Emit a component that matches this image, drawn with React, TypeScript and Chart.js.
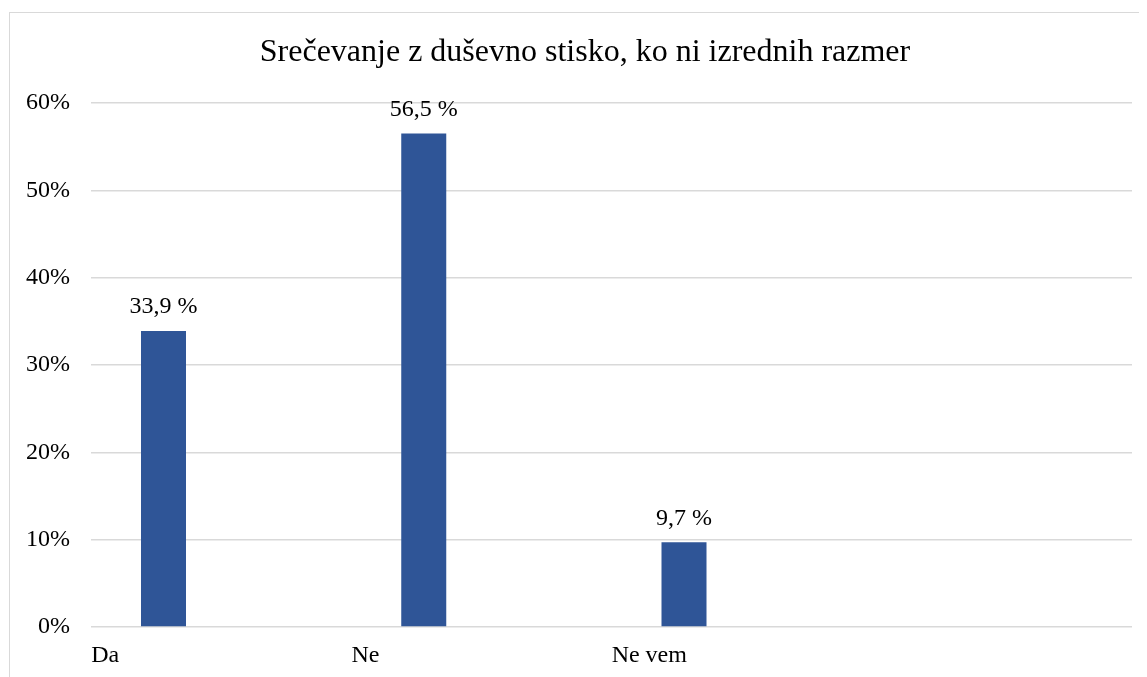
import React, { useEffect, useRef } from "react";
import { Chart, registerables } from "chart.js";

Chart.register(...registerables);

const categories = ["Da", "Ne", "Ne vem", ""];
const shares = [33.9, 56.5, 9.7, null];
const emptySeries = [null, null, null, null];
const yTicks = [0, 10, 20, 30, 40, 50, 60];
const titleText = "Srečevanje z duševno stisko, ko ni izrednih razmer";

const FONT = "'Liberation Serif', 'Times New Roman', serif";

const dataLabelPlugin = {
  id: "dataLabels",
  afterDatasetsDraw(chart: any) {
    const ctx = chart.ctx;
    const meta = chart.getDatasetMeta(0);
    ctx.save();
    ctx.font = `24px ${FONT}`;
    ctx.fillStyle = "#000000";
    ctx.textAlign = "center";
    ctx.textBaseline = "middle";
    meta.data.forEach((bar: any, i: number) => {
      const v = shares[i];
      if (v === null || v === undefined) return;
      const txt = v.toFixed(1).replace(".", ",") + " %";
      ctx.fillText(txt, bar.x, bar.y - 24);
    });
    ctx.restore();
  },
};

// Center the title over the whole (partly cropped) chart frame rather than the padded box
const titleShiftPlugin = {
  id: "titleShift",
  afterLayout(chart: any) {
    if (chart.titleBlock) {
      chart.titleBlock.left = 28;
    }
  },
};

export default function App() {
  const canvasRef = useRef<HTMLCanvasElement | null>(null);

  useEffect(() => {
    document.body.style.overflow = "hidden";
    document.documentElement.style.overflow = "hidden";
    const canvas = canvasRef.current;
    if (!canvas) return;
    const chart = new Chart(canvas, {
      type: "bar",
      data: {
        labels: categories,
        datasets: [
          {
            label: "Delež",
            data: shares,
            backgroundColor: "#2f5597",
            borderWidth: 0,
            categoryPercentage: 0.8857,
            barPercentage: 0.3905,
          },
          {
            label: "",
            data: emptySeries,
            backgroundColor: "#2f5597",
            borderWidth: 0,
            categoryPercentage: 0.8857,
            barPercentage: 0.3905,
          },
        ],
      },
      options: {
        responsive: false,
        animation: false,
        devicePixelRatio: 1,
        layout: { padding: { left: 0, right: 32, top: 0, bottom: 0 } },
        plugins: {
          legend: { display: false },
          tooltip: { enabled: false },
          title: {
            display: true,
            text: titleText,
            color: "#000000",
            font: { family: FONT, size: 32, weight: "normal", lineHeight: 1.2 },
            padding: { top: 20.8, bottom: 30.8 },
          },
        },
        scales: {
          x: {
            offset: true,
            grid: { display: false, drawTicks: false },
            border: { display: false },
            ticks: {
              color: "#000000",
              font: { family: FONT, size: 24, lineHeight: 1.2 },
              align: "start",
              labelOffset: -130,
              padding: 14.6,
              maxRotation: 0,
              autoSkip: false,
            },
            afterFit(scale: any) {
              scale.height = 66;
            },
          },
          y: {
            min: 0,
            max: 60,
            afterBuildTicks(scale: any) {
              scale.ticks = yTicks.map((v) => ({ value: v }));
            },
            grid: { color: "#d9d9d9", lineWidth: 1.5, drawTicks: false },
            border: { display: false },
            ticks: {
              color: "#000000",
              font: { family: FONT, size: 24, lineHeight: 1.2 },
              padding: 21,
              callback: (v: any) => `${v}%`,
            },
            afterFit(scale: any) {
              scale.width = 81;
            },
          },
        },
      },
      plugins: [dataLabelPlugin, titleShiftPlugin],
    });
    return () => chart.destroy();
  }, []);

  return (
    <div style={{ position: "relative", width: 1139, height: 669, overflow: "hidden" }}>
      <div
        style={{
          position: "absolute",
          left: 1,
          top: 4,
          width: 1154,
          height: 700,
          border: "1px solid #d9d9d9",
          background: "#ffffff",
        }}
      >
        <canvas ref={canvasRef} width={1154} height={680} style={{ display: "block" }} />
      </div>
    </div>
  );
}
